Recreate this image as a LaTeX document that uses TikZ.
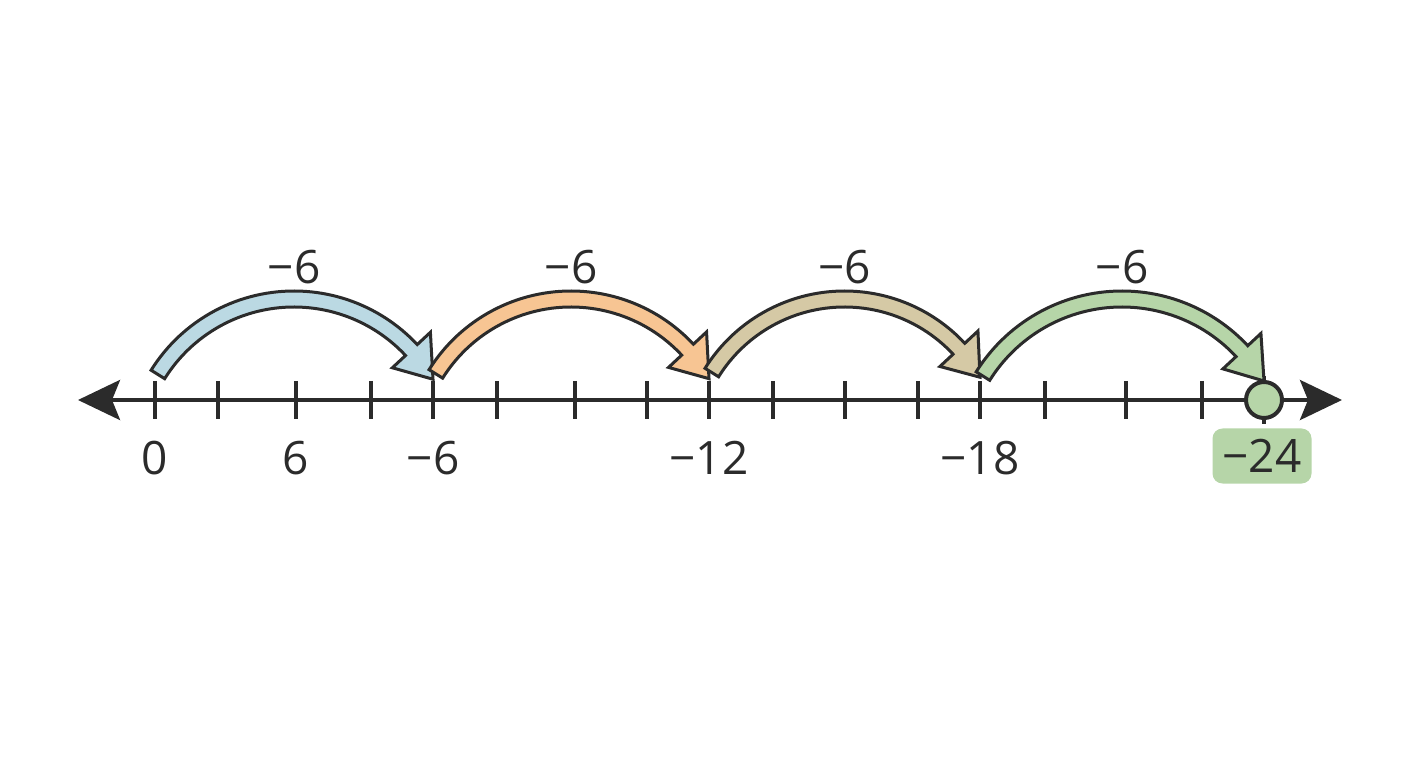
\documentclass[tikz,border=0pt]{standalone}
\usepackage{fontspec}
\setmainfont{Open Sans}
\usetikzlibrary{calc,arrows.meta}

\definecolor{jumpblue}{HTML}{BBD9E3}
\definecolor{jumporange}{HTML}{F7C593}
\definecolor{jumptan}{HTML}{D5C9A5}
\definecolor{jumpgreen}{HTML}{B6D5A8}
\definecolor{inkdark}{HTML}{2B2B2B}

\tikzset{
  numline/.style={line width=4pt, draw=inkdark,
    {Stealth[length=42pt,width=40pt,inset=8pt]}-{Stealth[length=42pt,width=40pt,inset=8pt]}},
  tickmark/.style={line width=4pt, draw=inkdark},
  jumpband/.style={draw=inkdark, line width=3pt, line join=miter},
  numlabel/.style={font=\fontsize{46}{50}\selectfont, text=inkdark, inner sep=0pt},
}

\begin{document}
\begin{tikzpicture}[x=1pt,y=1pt]
\useasboundingbox (0,-368) rectangle (1408,400);

% Number line
\coordinate (lend) at (78,0);
\coordinate (rend) at (1342,0);
\draw[numline] (lend) -- (rend);

% Tick marks
\foreach \name/\x in {t0/155, ta/218, t6/296, tb/371, t6m/433, tc/497, td/575, te/647,
                      t12m/709, tf/773, tg/845, th/918, t18m/980, ti/1045, tj/1126, tk/1202} {
  \coordinate (\name) at (\x,0);
  \draw[tickmark] ($(\name)+(0,19)$) -- ($(\name)+(0,-19)$);
}
\coordinate (t24m) at (1264,0);
\draw[tickmark] ($(t24m)+(0,24)$) -- ($(t24m)+(0,-24)$);

% Jumps of -6 (all arcs peak at the same height)
\foreach \from/\to/\col/\jname in {t0/t6m/jumpblue/j1, t6m/t12m/jumporange/j2,
                                   t12m/t18m/jumptan/j3, t18m/t24m/jumpgreen/j4} {
  \draw[jumpband, fill=\col]
    let \p1=(\from), \p2=(\to), \n1={(\x2-\x1)/(2*cos(30))},
        \n2={\n1+8}, \n3={\n1-8}, \n4={\n1+26}, \n5={\n1-26},
        \p3=($(\from)!0.5!(\to)+(0,{101-\n1})$) in
    ($(\p3)+(148:\n2)$) arc[start angle=148, end angle=43, radius=\n2]
    -- ($(\p3)+(43:\n4)$) -- ($(\p3)+(30:\n1)$) -- ($(\p3)+(43:\n5)$)
    -- ($(\p3)+(43:\n3)$) arc[start angle=43, end angle=148, radius=\n3] -- cycle;
  \node[numlabel] (\jname) at ($(\from)!0.5!(\to)+(0,133)$) {−6};
}

% End point
\node[circle, draw=inkdark, line width=4pt, fill=jumpgreen, minimum size=36pt, inner sep=0pt] (dot) at (t24m) {};

% Labels
\foreach \name/\lab in {t0/0, t6/6, t6m/−6, t12m/−12, t18m/−18} {
  \node[numlabel] (l\name) at ($(\name)+(0,-58)$) {\lab};
}
\node[numlabel, fill=jumpgreen, rounded corners=10pt, minimum width=99pt, minimum height=55pt]
  (l24) at ($(t24m)+(-2,-56)$) {−24};

\end{tikzpicture}
\end{document}
